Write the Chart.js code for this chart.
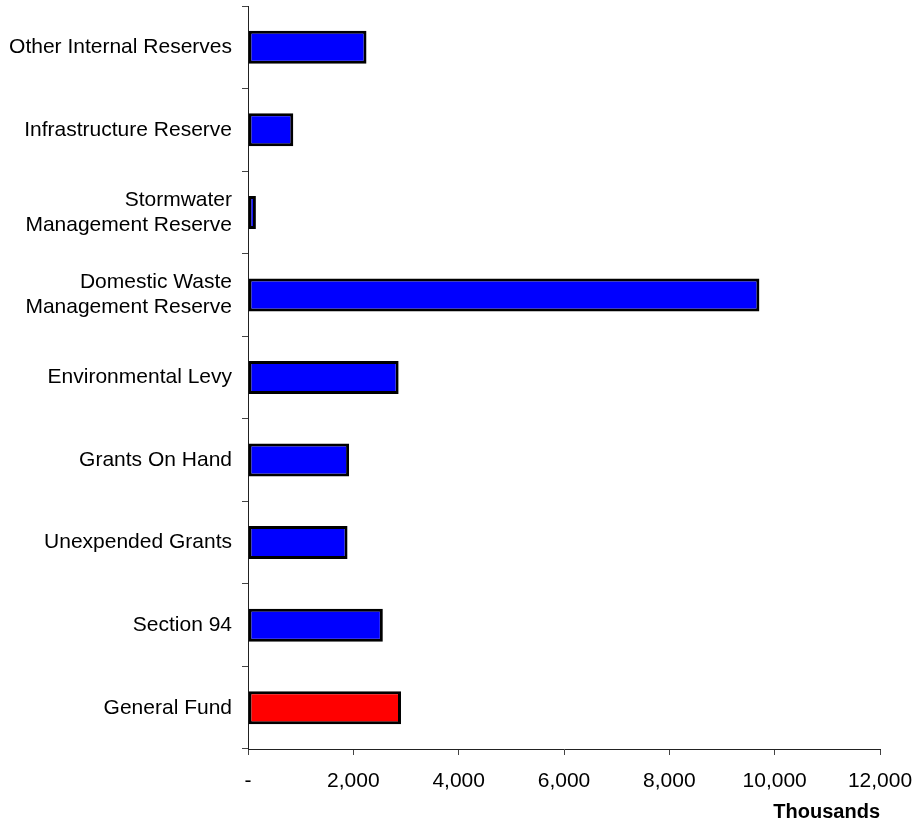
<!DOCTYPE html>
<html>
<head>
<meta charset="utf-8">
<script src="https://cdn.jsdelivr.net/npm/chart.js@4"></script>
<style>
  html, body { margin: 0; padding: 0; background: #fff; }
  #wrap { width: 915px; height: 822px; position: relative; }
</style>
</head>
<body>
<div id="wrap"><canvas id="reservesChart"></canvas></div>
<script>
// reserve categories, top to bottom as in the picture
const categories = [
    'Other Internal Reserves',
    'Infrastructure Reserve',
    ['Stormwater', 'Management Reserve'],
    ['Domestic Waste', 'Management Reserve'],
    'Environmental Levy',
    'Grants On Hand',
    'Unexpended Grants',
    'Section 94',
    'General Fund'
];
// balances in thousands
const balances = [2250, 860, 150, 9710, 2860, 1920, 1890, 2560, 2905];
const barColours = ['#0000ff', '#0000ff', '#0000ff', '#0000ff', '#0000ff', '#0000ff', '#0000ff', '#0000ff', '#ff0000'];
const xMax = 12000;
const xStep = 2000;

Chart.defaults.font.family = '"Liberation Sans", Arial, sans-serif';
Chart.defaults.font.size = 21;
Chart.defaults.color = '#000';

// drop the extra room chart.js keeps for half-labels, the layout padding does that job here
function noEdgePadding(scale) {
    scale.paddingTop = 0;
    scale.paddingBottom = 0;
    scale.paddingLeft = 0;
    scale.paddingRight = 0;
}

const ctx = document.getElementById('reservesChart').getContext('2d');
new Chart(ctx, {
    type: 'bar',
    data: {
        labels: categories,
        datasets: [{
            data: balances,
            backgroundColor: barColours,
            borderColor: '#000',
            borderWidth: 3,
            borderSkipped: false,
            barPercentage: 0.4,
            categoryPercentage: 1
        }]
    },
    options: {
        indexAxis: 'y',
        responsive: true,
        maintainAspectRatio: false,
        animation: false,
        layout: { padding: { top: 6, right: 35, left: 0, bottom: 0 } },
        plugins: {
            legend: { display: false },
            tooltip: { enabled: false }
        },
        scales: {
            x: {
                min: 0,
                max: xMax,
                ticks: {
                    stepSize: xStep,
                    padding: 14,
                    maxRotation: 0,
                    callback: v => v === 0 ? '-' : v.toLocaleString('en-US')
                },
                grid: { drawOnChartArea: false, tickLength: 6, color: '#444' },
                border: { color: '#222', width: 1 },
                title: {
                    display: true,
                    text: 'Thousands',
                    align: 'end',
                    font: { weight: 'bold', size: 20, lineHeight: 1 },
                    padding: { top: 0, bottom: 0 }
                },
                afterFit: scale => { scale.height = 73; noEdgePadding(scale); }
            },
            y: {
                ticks: { padding: 10 },
                grid: { drawOnChartArea: false, tickLength: 6, color: '#444' },
                border: { color: '#222', width: 1 },
                afterFit: scale => { scale.width = 248; noEdgePadding(scale); }
            }
        }
    }
});
</script>
</body>
</html>
